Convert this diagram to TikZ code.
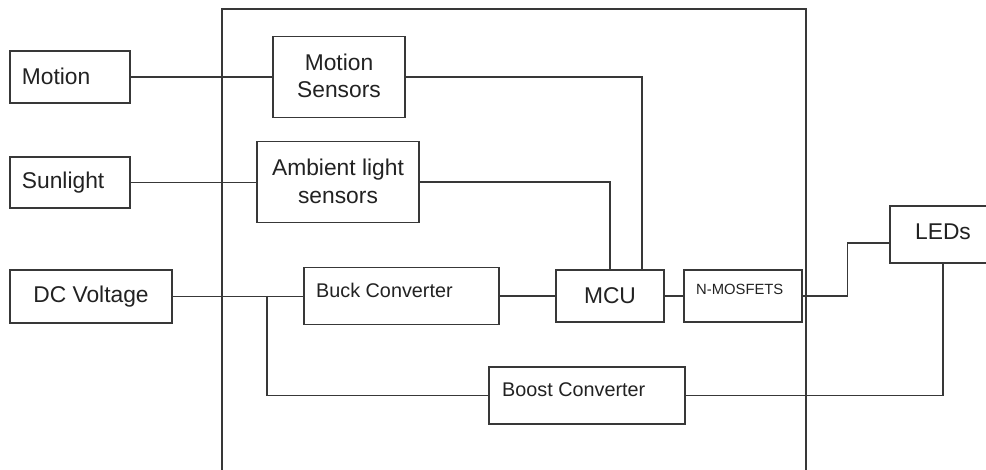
\documentclass[tikz,border=0pt]{standalone}
\usepackage{fontspec}
\setmainfont{Liberation Sans}
\definecolor{ln}{HTML}{383838}
\definecolor{tx}{HTML}{222222}
\tikzset{
  blk/.style={draw=ln, line width=1.15pt, rectangle, inner sep=0pt, fill=none},
  wire/.style={draw=ln, line width=1.15pt},
  big/.style={inner sep=0pt, text=tx, font=\fontsize{22.8}{26.5}\selectfont},
  mid/.style={inner sep=0pt, text=tx, font=\fontsize{19.8}{23}\selectfont},
  sml/.style={inner sep=0pt, text=tx, font=\fontsize{14.8}{17}\selectfont},
}
\begin{document}
\begin{tikzpicture}[x=1pt, y=-1pt]
\useasboundingbox (0,0) rectangle (986,470);
\clip (0,0) rectangle (986,470);
\fill[white] (0,0) rectangle (986,470);
% frame
\node[blk, minimum width=584pt, minimum height=480pt] (frame) at (514,249) {};
% boxes
\node[blk, minimum width=120pt, minimum height=52pt] (motion) at (70,77) {};
\node[blk, minimum width=120pt, minimum height=51pt] (sun) at (70,182.5) {};
\node[blk, minimum width=162pt, minimum height=53pt] (dc) at (91,296.5) {};
\node[blk, minimum width=132pt, minimum height=81pt] (msens) at (339,77) {};
\node[blk, minimum width=162pt, minimum height=81pt] (amb) at (338,182) {};
\node[blk, minimum width=195pt, minimum height=57pt] (buck) at (401.5,296) {};
\node[blk, minimum width=108pt, minimum height=52pt] (mcu) at (610,296) {};
\node[blk, minimum width=118pt, minimum height=52pt] (nmos) at (743,296) {};
\node[blk, minimum width=196pt, minimum height=57pt] (boost) at (587,395.5) {};
\node[blk, minimum width=106pt, minimum height=57pt] (leds) at (943,234.5) {};
% texts
\node[big, anchor=base west] (tmotion) at (21.7,85) {Motion};
\node[big, anchor=base west] (tsun) at (21.7,189) {Sunlight};
\node[big, anchor=base] (tdc) at (91,302.7) {DC Voltage};
\node[big, anchor=base] (tms1) at (339,70.7) {Motion};
\node[big, anchor=base] (tms2) at (339,97.3) {Sensors};
\node[big, anchor=base] (tam1) at (338,175.7) {Ambient light};
\node[big, anchor=base] (tam2) at (338,203.3) {sensors};
\node[mid, anchor=base west] (tbuck) at (316,297.7) {Buck Converter};
\node[big, anchor=base] (tmcu) at (610,303.3) {MCU};
\node[sml, anchor=base west] (tnmos) at (696,295) {N-MOSFETS};
\node[mid, anchor=base west] (tboost) at (502,396.7) {Boost Converter};
\node[big, anchor=base] (tleds) at (943,240) {LEDs};
% junction / bend coordinates
\coordinate (j) at (267,296);
\coordinate (ledin) at (890,243);
% connectors
\draw[wire] (motion.east) -- (motion.east -| msens.west);
\draw[wire] (sun.east) -- (sun.east -| amb.west);
\draw[wire] (dc.east) -- (dc.east -| buck.west);
\draw[wire] (j) -- (j |- boost.west) -- (boost.west);
\draw[wire] (msens.east) -| ([xshift=32pt]mcu.north);
\draw[wire] (amb.east) -| (mcu.north);
\draw[wire] (buck.east) -- (mcu.west);
\draw[wire] (mcu.east) -- (nmos.west);
\draw[wire] (nmos.east) -- ++(45,0) |- (ledin);
\draw[wire] (leds.south) |- (boost.east);
\end{tikzpicture}
\end{document}
